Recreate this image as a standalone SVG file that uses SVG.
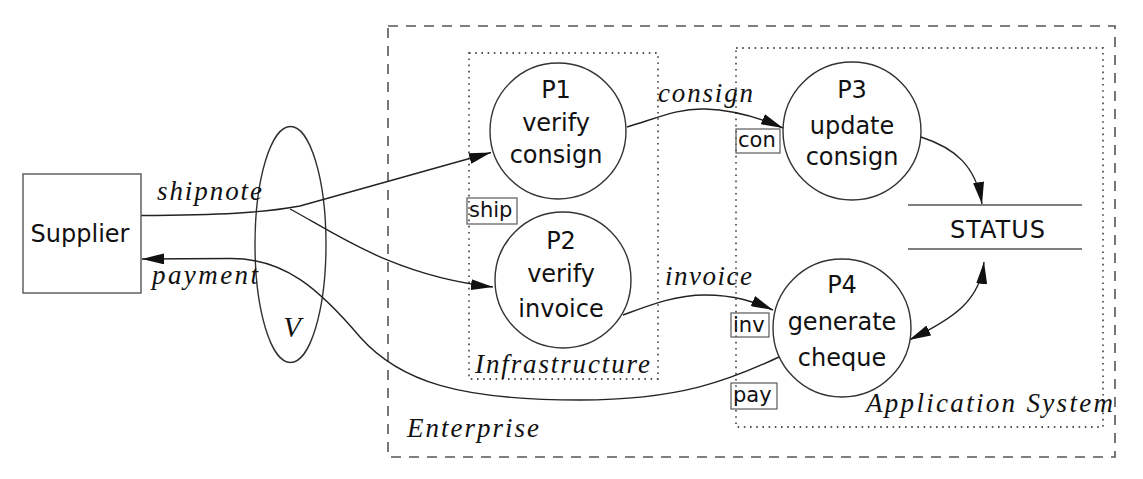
<svg xmlns="http://www.w3.org/2000/svg" width="1143" height="479" viewBox="0 0 1143 479">
<style>
.node{fill:#fff;stroke:#333;stroke-width:1.4}
.lbl{font-family:"DejaVu Sans",sans-serif;font-size:24px;fill:#111;text-anchor:middle}
.tag{font-family:"DejaVu Sans",sans-serif;font-size:21px;fill:#111}
.tagbox{fill:none;stroke:#666;stroke-width:1.3}
.it{font-family:"Liberation Serif",serif;font-style:italic;font-size:27px;fill:#111}
.edge{fill:none;stroke:#222;stroke-width:1.4}
.dash{fill:none;stroke:#555;stroke-width:1.6;stroke-dasharray:10 8}
.dot{fill:none;stroke:#555;stroke-width:1.8;stroke-dasharray:1.6 4.6}
</style>
<defs>
<marker id="ah" viewBox="0 0 22 11" refX="22" refY="5.5" markerWidth="22" markerHeight="11" markerUnits="userSpaceOnUse" orient="auto-start-reverse">
<path d="M0,0 L22,5.5 L0,11 z" fill="#111"/>
</marker>
</defs>
<rect width="1143" height="479" fill="#fff"/>

<g id="enterprise">
<rect class="dash" x="388" y="26" width="727" height="431"/>
<text class="it" x="407" y="437" textLength="132" lengthAdjust="spacing">Enterprise</text>
</g>
<g id="infrastructure">
<rect class="dot" x="469" y="53" width="189" height="326"/>
<text class="it" x="475" y="373" textLength="175" lengthAdjust="spacing">Infrastructure</text>
</g>
<g id="application-system">
<rect class="dot" x="736" y="48" width="367" height="379"/>
<text class="it" x="866" y="412" textLength="247" lengthAdjust="spacing">Application System</text>
</g>

<g id="V">
<ellipse cx="290.5" cy="244.5" rx="35.5" ry="118" fill="none" stroke="#333" stroke-width="1.4"/>
<text x="292" y="337" font-family="Liberation Serif,serif" font-style="italic" font-size="29" fill="#111" text-anchor="middle">V</text>
</g>

<g id="connectors">
<path class="edge" d="M141,215.5 C220,215 262,213 300,206 L491,152.5" marker-end="url(#ah)"/>
<path class="edge" d="M290,209 C332,231 392,276 493,287" marker-end="url(#ah)"/>
<path class="edge" d="M779,357 C730,380 680,400 580,400 C460,400 400,382 360,337 C320,290 285,258 230,258.5 L142,259" marker-end="url(#ah)"/>
<path class="edge" d="M627,127 C660,117 680,108 705,109 C735,110 760,118 783,128" marker-end="url(#ah)"/>
<path class="edge" d="M623,315 C650,305 675,295 705,295 C735,295 755,302 773,310" marker-end="url(#ah)"/>
<path class="edge" d="M921,137 C955,148 976,166 982,204" marker-end="url(#ah)"/>
<path class="edge" d="M909,340 C955,318 980,300 984,262" marker-start="url(#ah)" marker-end="url(#ah)"/>
<text class="it" x="157" y="200" textLength="105" lengthAdjust="spacing">shipnote</text>
<text class="it" x="152" y="284" textLength="106" lengthAdjust="spacing">payment</text>
<text class="it" x="658" y="102" textLength="95" lengthAdjust="spacing">consign</text>
<text class="it" x="665" y="285" textLength="87" lengthAdjust="spacing">invoice</text>
<rect class="tagbox" x="467" y="198" width="50" height="26"/>
<text class="tag" x="469" y="217">ship</text>
<rect class="tagbox" x="736" y="129" width="44" height="24"/>
<text class="tag" x="738" y="147">con</text>
<rect class="tagbox" x="731" y="313" width="38" height="24"/>
<text class="tag" x="733" y="332">inv</text>
<rect class="tagbox" x="731" y="383" width="46" height="26"/>
<text class="tag" x="733" y="402">pay</text>
</g>

<g id="supplier">
<rect x="23" y="174" width="118" height="119" fill="#fff" stroke="#555" stroke-width="1.4"/>
<text class="lbl" x="80" y="242">Supplier</text>
</g>
<g id="P1">
<circle class="node" cx="558" cy="131" r="68"/>
<text class="lbl" x="556" y="98">P1</text>
<text class="lbl" x="556" y="131">verify</text>
<text class="lbl" x="556" y="163">consign</text>
</g>
<g id="P2">
<circle class="node" cx="563" cy="280" r="68"/>
<text class="lbl" x="561" y="249">P2</text>
<text class="lbl" x="561" y="282">verify</text>
<text class="lbl" x="561" y="317">invoice</text>
</g>
<g id="P3">
<circle class="node" cx="852" cy="131" r="69"/>
<text class="lbl" x="852" y="98">P3</text>
<text class="lbl" x="852" y="134">update</text>
<text class="lbl" x="852" y="165">consign</text>
</g>
<g id="P4">
<circle class="node" cx="842" cy="328" r="69"/>
<text class="lbl" x="842" y="293">P4</text>
<text class="lbl" x="842" y="330">generate</text>
<text class="lbl" x="842" y="366">cheque</text>
</g>
<g id="STATUS">
<line x1="908" y1="205" x2="1082" y2="205" stroke="#555" stroke-width="1.6"/>
<line x1="908" y1="249" x2="1082" y2="249" stroke="#555" stroke-width="1.6"/>
<text class="lbl" x="998" y="238" font-size="26" letter-spacing="1">STATUS</text>
</g>
</svg>
